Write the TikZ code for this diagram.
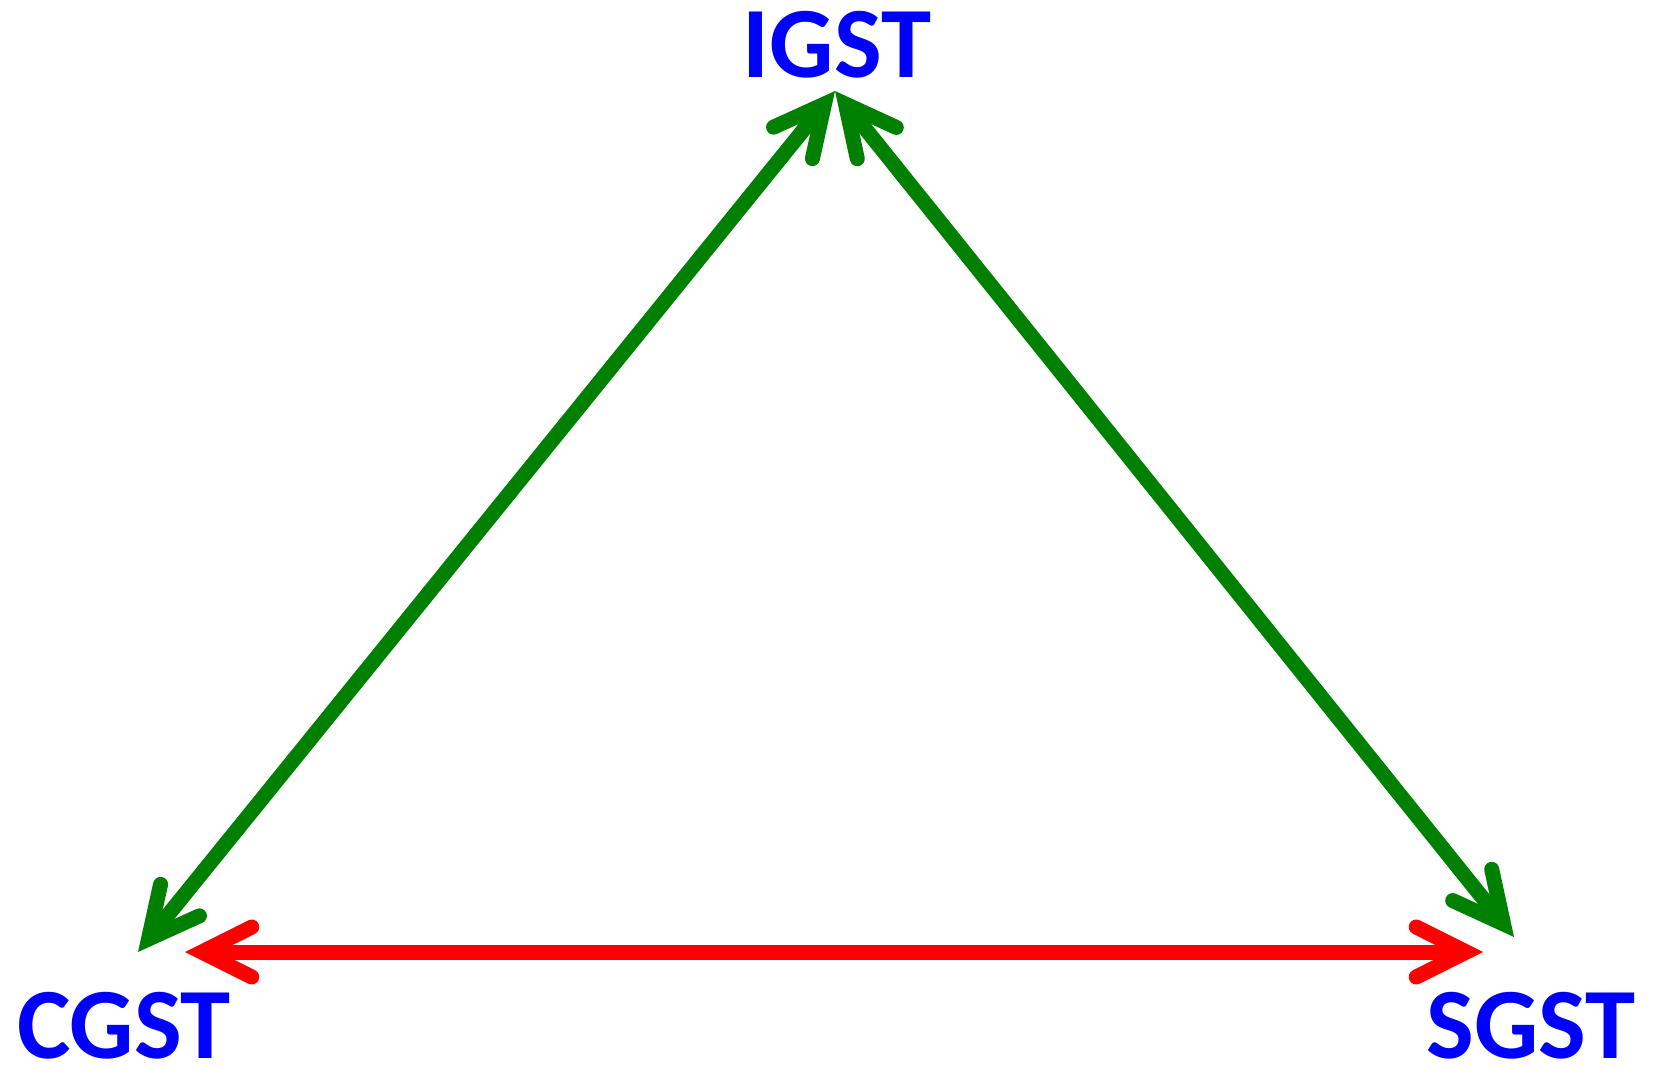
\documentclass[tikz,border=0pt]{standalone}
\usepackage{fontspec}
\setmainfont{Carlito}
\usetikzlibrary{arrows.meta}
\definecolor{gstblue}{RGB}{0,0,255}
\definecolor{gstgreen}{RGB}{0,128,0}
\definecolor{gstred}{RGB}{255,0,0}
\tikzset{
  barb/.tip={Straight Barb[length=50pt,width=50pt,line cap=round,line join=miter]},
  label/.style={text=gstblue,font=\fontsize{101}{110}\selectfont\bfseries,inner sep=0pt,anchor=base},
  greenlink/.style={draw=gstgreen,line width=15pt,barb-barb},
  redlink/.style={draw=gstred,line width=15pt,barb-barb}
}
\begin{document}
\begin{tikzpicture}[x=1pt,y=-1pt]
\useasboundingbox (0,0) rectangle (1657,1067);
\node[label] (igst) at (837,78) {IGST};
\node[label] (cgst) at (124,1058) {CGST};
\node[label] (sgst) at (1531,1058) {SGST};
\coordinate (top) at (835,91);
\coordinate (cg) at (138,952);
\coordinate (sg) at (1514,937);
\coordinate (rl) at (185,952);
\coordinate (rr) at (1483,952);
\draw[greenlink] (top) -- (cg);
\draw[greenlink] (top) -- (sg);
\draw[redlink] (rl) -- (rr);
\end{tikzpicture}
\end{document}
